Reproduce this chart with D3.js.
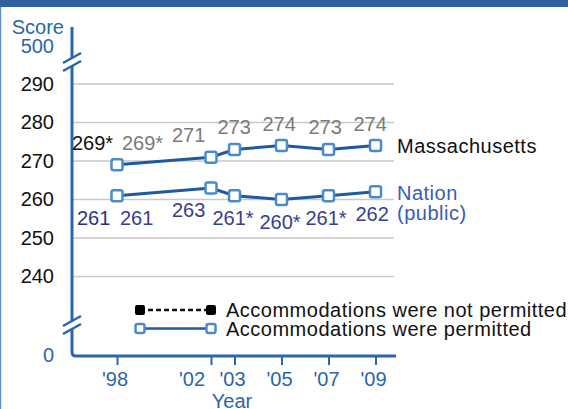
<!DOCTYPE html>
<html>
<head>
<meta charset="utf-8">
<script src="https://cdn.jsdelivr.net/npm/d3@7"></script>
<style>
  html, body { margin: 0; padding: 0; background: #fff; }
  svg { display: block; font-family: "Liberation Sans", Arial, sans-serif; }
</style>
</head>
<body>
<div id="chart"></div>
<script>
  // Data
  const years = [1998, 2002, 2003, 2005, 2007, 2009];
  const yearLabels = ["'98", "'02", "'03", "'05", "'07", "'09"];
  const maScores = [269, 271, 273, 274, 273, 274];
  const maLabels = ['269*', '271', '273', '274', '273', '274'];
  const nationScores = [261, 263, 261, 260, 261, 262];
  const nationLabels = ['261', '263', '261*', '260*', '261*', '262'];
  // 1998, accommodations not permitted
  const maNotPermitted = { year: 1998, score: 269, label: '269*' };
  const nationNotPermitted = { year: 1998, score: 261, label: '261' };
  const yTicks = [240, 250, 260, 270, 280, 290];

  // label nudges (layout only)
  const maDx = [5, -39, -17, -19, -20, -22];
  const nationDx = [3, -39, -22, -22, -23, -20];
  const yearDx = [-2.5, -19.5, -2.5, -2.5, -2.5, -2.5];

  const W = 568, H = 409;
  const FS = 20;
  const axisColor = '#2a66ab';
  const lineColor = '#1e5a9f';
  const markerColor = '#4a8ccb';

  const svg = d3.select('#chart').append('svg')
    .attr('width', W).attr('height', H)
    .attr('font-size', FS);

  // frame
  svg.append('rect').attr('x', 0).attr('y', 0).attr('width', W).attr('height', 7).attr('fill', '#2f63a0');
  svg.append('line').attr('x1', 0.5).attr('x2', 0.5).attr('y1', 7).attr('y2', H)
    .attr('stroke', '#5b8fc9').attr('stroke-width', 1.5);

  const x = d3.scaleLinear().domain([1998, 2009]).range([117, 375.5]);
  const y = d3.scaleLinear().domain([240, 290]).range([276.5, 84]);

  const axisX = 72, axisBottom = 356, axisTop = 27;

  // gridlines
  svg.append('g').selectAll('line').data(yTicks).enter().append('line')
    .attr('x1', axisX).attr('x2', 394)
    .attr('y1', d => y(d)).attr('y2', d => y(d))
    .attr('stroke', '#c9c9c9').attr('stroke-width', 1.5);

  // y tick labels
  const yAxis = svg.append('g')
    .attr('transform', `translate(54,0)`)
    .call(d3.axisLeft(y).tickValues(yTicks).tickSize(0).tickPadding(0));
  yAxis.select('.domain').remove();
  yAxis.selectAll('text')
    .attr('font-family', '"Liberation Sans", Arial, sans-serif')
    .attr('font-size', FS).attr('fill', '#111');

  // axis lines
  svg.append('path')
    .attr('d', `M${axisX},${axisTop} V${axisBottom - 4} Q${axisX},${axisBottom} ${axisX + 4},${axisBottom} H396`)
    .attr('fill', 'none').attr('stroke', axisColor).attr('stroke-width', 3);

  // axis breaks
  [62, 325].forEach(by => {
    svg.append('line')
      .attr('x1', axisX).attr('x2', axisX).attr('y1', by - 4).attr('y2', by + 4)
      .attr('stroke', '#fff').attr('stroke-width', 5);
    [-4, 4].forEach(o => {
      svg.append('line')
        .attr('x1', axisX - 9).attr('y1', by + o + 5)
        .attr('x2', axisX + 9).attr('y2', by + o - 5)
        .attr('stroke', axisColor).attr('stroke-width', 2.5);
    });
  });

  // Score / 500 / 0
  svg.append('text').attr('x', 64).attr('y', 34).attr('text-anchor', 'end')
    .attr('fill', axisColor).text('Score');
  svg.append('text').attr('x', 54).attr('y', 53).attr('text-anchor', 'end')
    .attr('fill', axisColor).text('500');
  svg.append('text').attr('x', 54).attr('y', 362).attr('text-anchor', 'end')
    .attr('fill', axisColor).text('0');

  // x axis
  const xAxis = svg.append('g')
    .attr('transform', `translate(0,${axisBottom})`)
    .call(d3.axisBottom(x).tickValues(years)
      .tickFormat((d, i) => yearLabels[i]).tickSize(9).tickPadding(7));
  xAxis.select('.domain').remove();
  xAxis.selectAll('line').attr('stroke', axisColor).attr('stroke-width', 2);
  xAxis.selectAll('text')
    .attr('font-family', '"Liberation Sans", Arial, sans-serif')
    .attr('font-size', FS).attr('fill', axisColor)
    .attr('dx', (d, i) => yearDx[i]);

  svg.append('text').attr('x', 232).attr('y', 408).attr('text-anchor', 'middle')
    .attr('fill', axisColor).text('Year');

  // series
  const line = d3.line().x(d => x(d[0])).y(d => y(d[1]));

  function drawSeries(scores) {
    const pts = years.map((yr, i) => [yr, scores[i]]);
    svg.append('path').datum(pts)
      .attr('d', line).attr('fill', 'none')
      .attr('stroke', lineColor).attr('stroke-width', 3);
    svg.append('g').selectAll('rect').data(pts).enter().append('rect')
      .attr('x', d => x(d[0]) - 5.5).attr('y', d => y(d[1]) - 5.5)
      .attr('width', 11).attr('height', 11).attr('rx', 2)
      .attr('fill', '#fff').attr('stroke', markerColor).attr('stroke-width', 2.5);
  }
  drawSeries(maScores);
  drawSeries(nationScores);

  // value labels
  svg.append('g').selectAll('text').data(maLabels).enter().append('text')
    .attr('x', (d, i) => x(years[i]) + maDx[i])
    .attr('y', (d, i) => y(maScores[i]) - 22)
    .attr('dy', '0.35em')
    .attr('fill', '#7a7a7a').text(d => d);
  svg.append('text')
    .attr('x', x(maNotPermitted.year) - 45).attr('y', y(maNotPermitted.score) - 22)
    .attr('dy', '0.35em').attr('fill', '#111')
    .text(maNotPermitted.label);

  svg.append('g').selectAll('text').data(nationLabels).enter().append('text')
    .attr('x', (d, i) => x(years[i]) + nationDx[i])
    .attr('y', (d, i) => y(nationScores[i]) + 22)
    .attr('dy', '0.35em')
    .attr('fill', '#36408f').text(d => d);
  svg.append('text')
    .attr('x', x(nationNotPermitted.year) - 40).attr('y', y(nationNotPermitted.score) + 22)
    .attr('dy', '0.35em').attr('fill', '#2a3480')
    .text(nationNotPermitted.label);

  // series names
  svg.append('text').attr('x', 397).attr('y', 146).attr('dy', '0.35em')
    .attr('letter-spacing', 0.5).attr('fill', '#111').text('Massachusetts');
  svg.append('text').attr('x', 397).attr('y', 193).attr('dy', '0.35em')
    .attr('letter-spacing', 0.5).attr('fill', '#3a5bb8').text('Nation');
  svg.append('text').attr('x', 397).attr('y', 213).attr('dy', '0.35em')
    .attr('letter-spacing', 0.5).attr('fill', '#3a5bb8').text('(public)');

  // legend
  const legend = svg.append('g');
  const ly1 = 310, ly2 = 328.5, lx1 = 140, lx2 = 211;
  legend.append('line').attr('x1', lx1).attr('x2', lx2).attr('y1', ly1).attr('y2', ly1)
    .attr('stroke', '#111').attr('stroke-width', 2.5).attr('stroke-dasharray', '5,3');
  [lx1, lx2].forEach(cx => legend.append('rect')
    .attr('x', cx - 5).attr('y', ly1 - 5).attr('width', 10).attr('height', 10).attr('rx', 2)
    .attr('fill', '#000'));
  legend.append('line').attr('x1', lx1).attr('x2', lx2).attr('y1', ly2).attr('y2', ly2)
    .attr('stroke', lineColor).attr('stroke-width', 2.5);
  [lx1, lx2].forEach(cx => legend.append('rect')
    .attr('x', cx - 4.5).attr('y', ly2 - 4.5).attr('width', 9).attr('height', 9).attr('rx', 2)
    .attr('fill', '#fff').attr('stroke', markerColor).attr('stroke-width', 2.5));
  legend.append('text').attr('x', 226).attr('y', ly1).attr('dy', '0.35em')
    .attr('letter-spacing', 0.5).attr('fill', '#111').text('Accommodations were not permitted');
  legend.append('text').attr('x', 226).attr('y', ly2).attr('dy', '0.35em')
    .attr('letter-spacing', 0.5).attr('fill', '#111').text('Accommodations were permitted');
</script>
</body>
</html>
